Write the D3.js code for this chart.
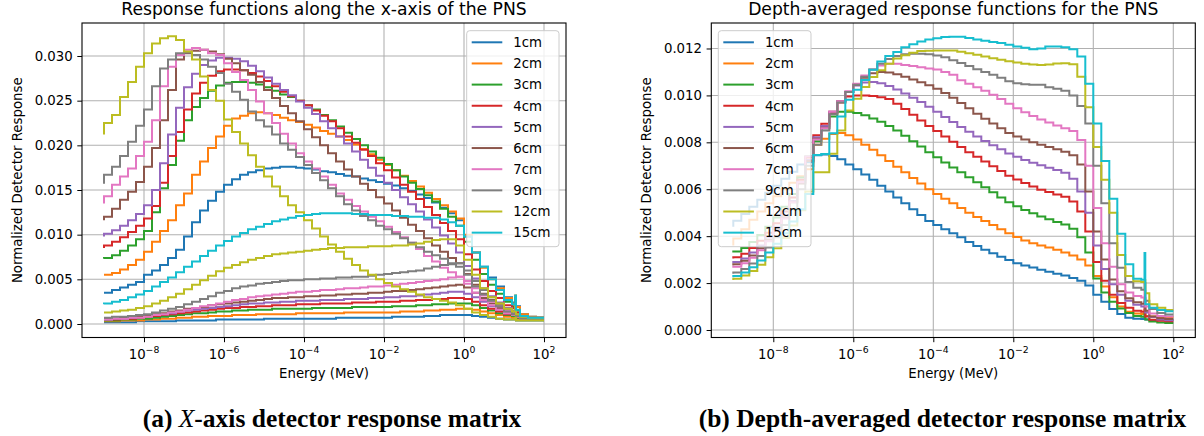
<!DOCTYPE html>
<html lang="en">
<head>
<meta charset="UTF-8"/>
<title>PNS response functions</title>
<script src="https://cdn.jsdelivr.net/npm/d3@7"></script>
<style>
  body { margin: 0; background: #fff; }
  svg { display: block; }
  text { font-family: "DejaVu Sans", sans-serif; fill: #000; }
  text.caption { font-family: "Liberation Serif", "Times New Roman", serif; font-weight: bold; }
</style>
</head>
<body>
<svg id="chart" width="1204" height="436"></svg>
<script>
// depths and matplotlib tab10 colours
const depthLabels = ['1cm', '2cm', '3cm', '4cm', '5cm', '6cm', '7cm', '9cm', '12cm', '15cm'];
const lineColors = ['#1f77b4', '#ff7f0e', '#2ca02c', '#d62728', '#9467bd', '#8c564b', '#e377c2', '#7f7f7f', '#bcbd22', '#17becf'];

// energy bin edges, log10(MeV)
const energyExp = [-9.0, -8.8, -8.6, -8.4, -8.2, -8.0, -7.8, -7.6, -7.4, -7.2,
  -7.0, -6.8, -6.6, -6.4, -6.2, -6.0, -5.8, -5.6, -5.4, -5.2,
  -5.0, -4.8, -4.6, -4.4, -4.2, -4.0, -3.8, -3.6, -3.4, -3.2,
  -3.0, -2.8, -2.6, -2.4, -2.2, -2.0, -1.8, -1.6, -1.4, -1.2,
  -1.0, -0.8, -0.6, -0.4, -0.2, 0.0, 0.2, 0.4, 0.6, 0.8,
  1.0, 1.2, 1.28, 1.3, 1.4, 1.6, 1.8, 2.0];

const xTickExp = [-8, -6, -4, -2, 0, 2];
const leftYTicks = [0, 0.005, 0.010, 0.015, 0.020, 0.025, 0.030];
const rightYTicks = [0, 0.002, 0.004, 0.006, 0.008, 0.010, 0.012];

// x-axis response, units of 1e-4 : first pass (hi*) and second pass (lo*)
const hi1 = [35,35,38,41,44,47,55,60,66,74, 83,98,114,127,138,148,156,162,167,170, 172,174,175,176,176,175,174,173,171,170, 168,166,165,163,161,159,157,155,152,149, 145,141,136,130,124,116,98,80,64,52, 42,30,24,31,20,11,8,7];
const hi2 = [55,55,57,61,66,72,81,92,104,116, 133,146,167,182,197,210,222,230,233,236, 237,236,234,231,228,226,223,220,216,213, 210,206,201,196,190,184,178,172,166,160, 154,147,140,133,126,118,100,80,63,50, 40,29,23,32,19,11,8,7];
const hi3 = [73,74,77,82,88,95,104,125,152,178, 205,228,243,253,261,267,270,271,271,270, 268,265,261,257,254,250,245,240,234,228, 221,214,207,200,193,186,179,172,165,158, 151,144,137,129,120,110,92,72,56,44, 34,25,20,29,15,9,7,7];
const hi4 = [85,88,92,97,103,110,118,132,158,188, 215,240,258,270,278,283,285,285,284,281, 277,272,266,260,255,250,245,239,233,227, 219,210,203,195,188,180,172,164,156,148, 140,131,122,113,104,95,78,61,48,37, 29,21,18,26,13,8,7,7];
const hi5 = [98,101,105,110,116,123,133,150,180,212, 242,265,280,290,295,298,298,297,294,289, 283,276,269,262,256,249,242,235,227,219, 210,202,193,184,175,166,158,150,142,134, 126,117,108,99,90,80,65,51,40,31, 24,18,15,22,11,7,6,6];
const hi6 = [116,120,129,139,148,159,176,197,228,262, 296,303,306,307,305,302,297,292,284,279, 271,262,253,244,236,227,218,209,200,191, 182,173,165,157,150,142,135,127,119,111, 104,96,88,81,74,68,56,44,34,27, 21,15,12,18,10,7,6,6];
const hi7 = [135,143,156,165,174,188,204,228,266,288, 301,307,309,307,303,301,292,282,273,262, 249,236,225,213,202,191,182,174,165,156, 146,139,132,126,120,115,109,103,97,91, 84,76,70,63,58,53,45,35,27,21, 16,12,10,14,8,6,5,5];
const hi9 = [157,167,176,188,204,222,240,266,286,296, 303,304,301,296,288,281,269,260,251,238, 228,221,212,202,195,187,178,169,161,152, 143,134,127,121,116,110,106,101,96,91, 86,81,77,73,68,64,55,42,33,26, 20,14,11,16,9,6,5,5];
const hi12 = [212,225,234,254,271,288,303,314,320,322, 318,305,296,277,262,250,229,215,202,189, 176,165,154,143,133,125,116,107,98,89, 81,73,66,60,55,50,46,42,39,36, 33,30,28,26,24,21,17,13,10,8, 6,5,5,7,4,4,4,4];

const lo1 = [2,2,2,2,2,3,3,3,3,3, 4,4,4,4,4,5,5,5,5,5, 5,6,6,6,6,6,6,6,6,6, 7,7,7,7,7,7,7,8,8,8, 8,9,9,10,10,10,10,9,8,7, 6,5,5,6,4,4,4,4];
const lo2 = [3,3,3,4,4,4,5,5,6,6, 7,7,8,8,9,9,9,10,10,10, 11,11,11,11,11,12,12,12,12,12, 12,13,13,13,13,13,13,13,14,14, 14,15,15,16,16,17,17,16,14,12, 10,8,7,9,6,5,5,5];
const lo3 = [4,4,4,5,5,6,6,7,8,9, 10,11,12,12,13,14,14,15,15,16, 16,16,17,17,17,17,17,18,18,18, 18,18,19,19,19,19,19,20,20,20, 21,21,22,22,23,23,23,21,18,15, 12,10,9,11,7,6,5,5];
const lo4 = [5,5,5,6,6,7,8,9,10,11, 12,13,14,15,16,17,18,18,19,19, 20,20,21,21,21,22,22,22,23,23, 23,23,24,24,24,25,25,25,26,26, 27,27,28,28,29,29,28,25,21,17, 14,11,10,12,8,6,6,6];
const lo5 = [5,5,6,6,7,8,9,10,11,12, 14,15,16,17,18,19,20,21,22,23, 23,24,24,25,25,26,26,26,27,27, 27,28,28,28,29,29,30,30,31,31, 32,33,34,35,36,36,34,30,25,20, 16,12,11,14,9,7,6,6];
const lo6 = [6,6,6,7,8,9,10,11,12,14, 15,17,18,19,21,22,23,24,25,26, 27,28,29,29,30,30,31,31,32,32, 33,33,34,34,35,35,36,37,37,38, 39,40,41,42,43,44,41,35,29,23, 18,14,12,16,10,7,6,6];
const lo7 = [5,5,6,6,7,7,8,10,11,13, 14,16,18,20,21,23,25,27,28,30, 31,32,33,34,35,36,36,37,38,38, 39,40,40,41,42,42,43,44,45,46, 47,48,49,50,52,53,48,40,32,25, 20,15,13,18,10,8,7,7];
const lo9 = [7,7,8,8,9,10,11,13,15,17, 19,22,25,28,31,35,37,40,42,43, 45,46,47,48,49,49,50,50,51,51, 52,52,53,53,54,55,56,57,58,59, 60,62,64,66,67,68,60,48,38,30, 23,17,14,20,11,8,7,7];
const lo12 = [13,13,14,15,16,18,20,23,26,30, 34,39,44,49,54,59,63,66,69,72, 74,76,78,79,80,81,82,83,84,85, 85,86,86,86,87,87,87,88,88,89, 90,92,94,95,95,88,72,55,40,30, 23,17,14,20,11,8,7,7];
const lo15 = [22,23,25,27,30,33,37,42,47,52, 58,64,70,76,82,88,93,98,102,106, 109,112,115,117,119,121,122,123,124,124, 124,124,123,123,122,122,122,121,121,120, 120,119,119,117,114,110,98,80,64,50, 38,27,22,32,16,9,7,7];

// depth-averaged response, units of 1e-5
const avg1 = [440,466,495,525,555,585,615,645,675,705, 715,745,748,742,728,705,685,663,640,615, 590,565,540,515,490,465,448,430,412,395, 375,358,342,327,312,298,285,275,266,257, 248,240,232,222,210,190,150,120,90,68, 52,48,47,56,45,43,43,43];
const avg2 = [360,390,430,470,505,540,570,600,628,655, 685,790,815,836,840,830,812,790,768,745, 720,696,672,648,624,600,580,560,540,520, 500,482,465,448,430,412,396,382,370,360, 352,342,330,318,300,275,230,185,140,100, 78,70,68,85,60,57,55,55];
const avg3 = [330,335,350,375,405,440,480,525,580,650, 740,805,860,910,930,930,925,915,902,888, 870,850,828,805,782,758,736,714,693,672, 651,630,608,587,565,545,528,512,498,484, 472,460,450,432,395,330,220,160,120,92, 72,60,56,70,45,36,32,30];
const avg4 = [305,310,325,350,380,415,455,505,565,640, 735,830,879,930,970,995,1000,1000,998,992, 985,965,942,918,893,870,848,825,802,780, 758,738,718,698,678,658,642,627,612,598, 588,578,568,548,505,420,290,210,150,115, 95,82,78,95,58,44,39,37];
const avg5 = [285,290,305,330,360,395,440,490,550,630, 725,822,870,930,975,1015,1042,1055,1057,1052, 1040,1025,1008,990,972,952,930,908,887,865, 845,825,806,788,770,752,738,725,713,702, 692,682,670,645,590,500,360,260,195,150, 125,108,100,120,75,55,45,42];
const avg6 = [275,280,295,318,348,385,428,480,545,625, 720,815,862,925,975,1015,1045,1075,1095,1100, 1098,1090,1080,1068,1056,1043,1028,1010,990,968, 945,922,900,880,860,840,825,812,800,790, 780,770,760,745,705,590,420,300,215,165, 135,118,112,135,82,58,50,47];
const avg7 = [265,270,285,308,340,378,422,475,545,630, 740,812,860,930,975,1018,1050,1085,1110,1128, 1135,1135,1130,1125,1120,1115,1110,1100,1088,1065, 1050,1035,1020,1003,985,965,945,928,912,897, 885,872,860,848,810,700,520,370,270,195, 160,145,138,165,100,70,60,57];
const avg9 = [240,245,260,283,315,352,395,448,515,600, 700,790,850,920,970,1015,1045,1080,1110,1135, 1155,1168,1175,1178,1178,1175,1170,1163,1150,1138, 1125,1112,1100,1088,1075,1060,1052,1048,1045,1045, 1035,1028,1020,1000,955,880,700,540,370,265, 205,180,172,200,125,90,72,66];
const avg12 = [213,218,232,252,278,310,348,392,445,510, 590,672,672,751,850,936,986,1036,1078,1107, 1135,1157,1171,1182,1189,1190,1192,1192,1191,1186, 1180,1173,1166,1158,1152,1146,1140,1135,1132,1130, 1132,1136,1137,1133,1080,950,780,640,500,320, 230,208,205,212,157,110,95,85];
const avg15 = [225,230,245,268,296,330,368,412,462,515, 580,746,750,839,910,981,1024,1066,1109,1145, 1168,1185,1205,1218,1230,1238,1244,1249,1250,1250, 1245,1238,1233,1228,1223,1216,1209,1203,1197,1200, 1208,1209,1205,1197,1166,1050,880,720,560,410, 280,218,214,328,110,95,85,80];

const svg = d3.select('#chart');
const xExtentExp = [-9.55, 2.55];

function drawPanel(p) {
  const x = d3.scaleLog()
    .domain([10 ** xExtentExp[0], 10 ** xExtentExp[1]])
    .range([p.left, p.right]);
  const y = d3.scaleLinear()
    .domain(p.yDomain)
    .range([p.bottom, p.top]);

  const g = svg.append('g');

  // grid
  g.append('g').selectAll('line').data(xTickExp).join('line')
    .attr('x1', d => x(10 ** d)).attr('x2', d => x(10 ** d))
    .attr('y1', p.top).attr('y2', p.bottom)
    .attr('stroke', '#b0b0b0').attr('stroke-width', 1.07);
  g.append('g').selectAll('line').data(p.yTicks).join('line')
    .attr('x1', p.left).attr('x2', p.right)
    .attr('y1', d => y(d)).attr('y2', d => y(d))
    .attr('stroke', '#b0b0b0').attr('stroke-width', 1.07);

  // step curves
  const line = d3.line()
    .x(d => x(d[0]))
    .y(d => y(d[1]))
    .curve(d3.curveStepBefore);

  p.series.forEach(s => {
    const pts = energyExp.map((e, i) => [10 ** e, s.values[i] * p.unit]);
    g.append('path')
      .datum(pts)
      .attr('d', line)
      .attr('fill', 'none')
      .attr('stroke', lineColors[s.depth])
      .attr('stroke-width', 2);
  });

  // y axis
  const yAxis = g.append('g')
    .attr('transform', `translate(${p.left},0)`)
    .call(d3.axisLeft(y).tickValues(p.yTicks).tickFormat(d3.format('.3f')).tickSize(4.7).tickPadding(4.6));
  yAxis.select('.domain').remove();
  yAxis.attr('font-size', 13.3).attr('color', '#000');

  // x axis ticks
  const xAxis = g.append('g')
    .attr('transform', `translate(0,${p.bottom})`)
    .call(d3.axisBottom(x).tickValues(xTickExp.map(e => 10 ** e)).tickFormat('').tickSize(4.7));
  xAxis.select('.domain').remove();
  xAxis.attr('color', '#000');

  // x tick labels with superscript exponents
  g.append('g').selectAll('text').data(xTickExp).join('text')
    .attr('x', d => x(10 ** d))
    .attr('y', 358.5)
    .attr('text-anchor', 'middle')
    .attr('font-size', 13.3)
    .each(function (d) {
      const t = d3.select(this);
      t.append('tspan').text('10');
      t.append('tspan').attr('font-size', 9.3).attr('dy', -5.6)
        .text(d < 0 ? '\u2212' + (-d) : String(d));
    });

  // frame
  g.append('rect')
    .attr('x', p.left).attr('y', p.top)
    .attr('width', p.right - p.left).attr('height', p.bottom - p.top)
    .attr('fill', 'none').attr('stroke', '#000').attr('stroke-width', 1.1);

  // title and labels
  g.append('text')
    .attr('x', (p.left + p.right) / 2).attr('y', 14.5)
    .attr('text-anchor', 'middle').attr('font-size', 17.2)
    .text(p.title);
  g.append('text')
    .attr('x', (p.left + p.right) / 2).attr('y', 378)
    .attr('text-anchor', 'middle').attr('font-size', 13.3)
    .text('Energy (MeV)');
  g.append('text')
    .attr('transform', `translate(${p.ylabelX},${(p.top + p.bottom) / 2}) rotate(-90)`)
    .attr('text-anchor', 'middle').attr('font-size', 13.3)
    .text('Normalized Detector Response');

  // legend
  const lg = g.append('g').attr('transform', `translate(${p.legendX},30.7)`);
  lg.append('rect')
    .attr('width', p.legendW).attr('height', 216).attr('rx', 3)
    .attr('fill', '#fff').attr('fill-opacity', 0.8)
    .attr('stroke', '#cccccc').attr('stroke-width', 1);
  depthLabels.forEach((lab, k) => {
    const cy = 11.6 + k * 21.15;
    lg.append('line')
      .attr('x1', 5).attr('x2', 35.6).attr('y1', cy).attr('y2', cy)
      .attr('stroke', lineColors[k]).attr('stroke-width', 2);
    lg.append('text')
      .attr('x', 46.6).attr('y', cy).attr('dy', '0.36em')
      .attr('font-size', 13.3)
      .text(lab);
  });
}

drawPanel({
  left: 82, right: 566, top: 23, bottom: 337.5,
  yDomain: [-0.001511, 0.033694],
  yTicks: leftYTicks,
  unit: 1e-4,
  title: 'Response functions along the x-axis of the PNS',
  ylabelX: 21.5,
  legendX: 466.7, legendW: 92.3,
  series: [
    { depth: 0, values: hi1 }, { depth: 0, values: lo1 },
    { depth: 1, values: hi2 }, { depth: 1, values: lo2 },
    { depth: 2, values: hi3 }, { depth: 2, values: lo3 },
    { depth: 3, values: hi4 }, { depth: 3, values: lo4 },
    { depth: 4, values: hi5 }, { depth: 4, values: lo5 },
    { depth: 5, values: hi6 }, { depth: 5, values: lo6 },
    { depth: 6, values: hi7 }, { depth: 6, values: lo7 },
    { depth: 7, values: hi9 }, { depth: 7, values: lo9 },
    { depth: 8, values: hi12 }, { depth: 8, values: lo12 },
    { depth: 9, values: lo15 }
  ]
});

drawPanel({
  left: 711.3, right: 1195.3, top: 23, bottom: 337.5,
  yDomain: [-0.00032, 0.013087],
  yTicks: rightYTicks,
  unit: 1e-5,
  title: 'Depth-averaged response functions for the PNS',
  ylabelX: 651,
  legendX: 718.3, legendW: 92.7,
  series: [avg1, avg2, avg3, avg4, avg5, avg6, avg7, avg9, avg12, avg15]
    .map((v, k) => ({ depth: k, values: v }))
});

// sub-figure captions
const capA = svg.append('text')
  .attr('class', 'caption')
  .attr('x', 332).attr('y', 427)
  .attr('text-anchor', 'middle')
  .attr('font-size', 25.5);
capA.append('tspan').text('(a) ');
capA.append('tspan').style('font-style', 'italic').style('font-weight', 'normal').text('X');
capA.append('tspan').text('-axis detector response matrix');

svg.append('text')
  .attr('class', 'caption')
  .attr('x', 942.5).attr('y', 427)
  .attr('text-anchor', 'middle')
  .attr('font-size', 25.5)
  .text('(b) Depth-averaged detector response matrix');
</script>
</body>
</html>
